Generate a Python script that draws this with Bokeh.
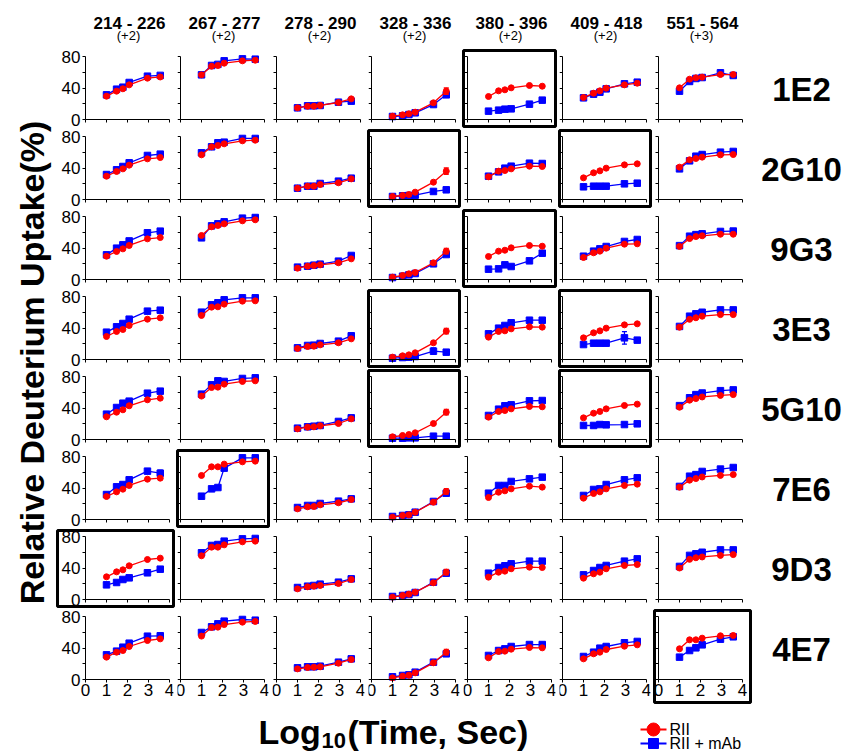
import math
from bokeh.plotting import figure
from bokeh.models import Range1d, LinearAxis, FixedTicker, GridPlot, ColumnDataSource
from bokeh.core.properties import value
from bokeh.embed import file_html
from bokeh.resources import INLINE

# ---------------- data ----------------
LOG_TIME = [1.0, 1.48, 1.78, 2.08, 2.95, 3.56]
PEPTIDES = ["214 - 226", "267 - 277", "278 - 290", "328 - 336", "380 - 396", "409 - 418", "551 - 564"]
CHARGES = ["(+2)", "(+2)", "(+2)", "(+2)", "(+2)", "(+2)", "(+3)"]
MABS = ["1E2", "2G10", "9G3", "3E3", "5G10", "7E6", "9D3", "4E7"]
X_TICKS = [0, 1, 2, 3, 4]
Y_TICKS = [0, 40, 80]
Y_MINOR = [20, 60]

RII_1E2 = [[29.6, 36, 39, 44, 52.5, 54], [56.7, 67.7, 68.6, 71.5, 74.5, 75.3], [14.8, 16.9, 16.9, 17.8, 21.6, 26.2],
           [4.2, 5.9, 7.2, 9.3, 21.2, 36], [29.2, 36.4, 37.7, 40.2, 43.2, 42.3], [27.9, 33.4, 36.4, 39.8, 44, 46.1],
           [40.2, 51.2, 52.9, 53.8, 57.1, 57.1]]
MAB_1E2 = [[31.3, 38.5, 41, 47, 55, 56], [56.7, 68.6, 70, 74.5, 77, 76.6], [14.8, 17.4, 17.4, 17.8, 22, 23.3],
           [3.8, 4.7, 6.3, 8.5, 19, 31.3], [10.6, 11.9, 13.1, 13.5, 19.5, 24.6], [27.5, 32.2, 34.7, 38.9, 45.3, 47.4],
           [36, 48.3, 52.1, 53.3, 59.3, 55.9]]
RII_2G10 = [[29.6, 35.6, 38.9, 43.6, 51.6, 53.3], [56.7, 66.9, 68.6, 70.7, 74.5, 75.3], [14.4, 16.9, 16.9, 19, 21.2, 26.2],
            [3.8, 5.1, 6.3, 9.3, 22, 36], [28.8, 36, 36.8, 38.9, 42.3, 41.9], [27.5, 33.9, 36.4, 39.8, 44, 45.3],
            [41.1, 50.4, 52.1, 53.8, 56.7, 57.1]]
MAB_2G10 = [[31.7, 37.7, 41.9, 46.6, 55.9, 57.6], [59.3, 66.9, 72, 72.8, 77.5, 77.5], [14.4, 16.9, 16.9, 20.3, 23.3, 27.1],
            [3.8, 4.7, 5.1, 5.5, 10.2, 12.3], [29.6, 35.1, 39.8, 42.3, 46.1, 45.7], [16.1, 16.9, 16.9, 16.9, 19.9, 20.7],
            [38.9, 49.1, 55, 57.1, 60.1, 61]]
RII_9G3 = [[29.6, 35.6, 38.9, 43.2, 51.6, 53.3], [55.9, 66.9, 68.6, 70.7, 74.5, 75.8], [14.4, 16.9, 17.8, 18.6, 21.2, 26.2],
           [3, 5.1, 7.2, 8.9, 21.2, 36], [29.2, 36, 37.2, 40.2, 43.2, 42.3], [27.9, 33.9, 36, 39.8, 44.9, 45.3],
           [42, 52, 54.5, 55.5, 57.5, 57.5]]
MAB_9G3 = [[31.3, 39.8, 44, 49, 59.3, 61.4], [52.9, 68.1, 70.7, 73.2, 77.9, 78.7], [15.7, 16.9, 18.2, 19.5, 23.3, 30.5],
           [2.5, 4.2, 5.9, 7.6, 19.9, 31.7], [13.1, 13.5, 18.6, 16.5, 23.7, 33.4], [29.6, 36, 38.9, 41.9, 48.3, 50.8],
           [43, 55, 57, 58, 61, 61.5]]
RII_3E3 = [[29.2, 35.6, 38.1, 43.2, 51.2, 52.9], [55.9, 66.5, 66.9, 70.3, 74.1, 74.5], [14, 16.5, 16.9, 18.6, 21.2, 26.2],
           [3, 4.7, 5.9, 8.5, 21.2, 36], [28.4, 35.6, 36.4, 38.9, 41.5, 41.1], [27.5, 33.9, 36.4, 39.8, 44, 45.3],
           [41, 51, 53, 55, 57, 57]]
MAB_3E3 = [[34.7, 41.5, 45.7, 51.2, 61.4, 62.6], [60.1, 69.4, 72, 75.8, 78.3, 78.3], [14.8, 17.8, 18.2, 20.3, 23.3, 30.1],
           [1.7, 2.5, 3, 3.8, 10.6, 9.3], [32.6, 39.8, 43.2, 46.6, 49.9, 49.9], [19, 20.7, 20.7, 20.7, 27.5, 24.6],
           [42, 55, 58, 60, 63, 63]]
RII_5G10 = [[28.8, 34.7, 37.7, 42.8, 50.4, 52.5], [55.1, 66, 66.5, 70.3, 73.7, 74.5], [13.5, 15.7, 16.1, 17.4, 20.3, 26.2],
            [3.4, 5.1, 6.3, 8.5, 20.3, 34.7], [28.4, 35.6, 36.8, 38.9, 41.9, 41.5], [27.5, 33.4, 35.6, 38.9, 43.2, 44.9],
            [41, 50, 52, 54, 56, 57]]
MAB_5G10 = [[32.2, 40.6, 46.1, 48.7, 58.8, 61.4], [57.6, 69.4, 74.5, 73.7, 77.5, 78.3], [14.4, 16.1, 16.9, 17.8, 22.9, 27.5],
            [1.7, 1.7, 2.1, 2.1, 4.2, 4.2], [30.5, 38.5, 42.8, 44, 49.1, 49.5], [17.8, 17.8, 19, 18.6, 19, 19.9],
            [43, 53, 57, 59, 62, 63]]
RII_7E6 = [[29.2, 35.1, 38.5, 43.2, 51.2, 52.5], [55.9, 66.9, 66.9, 70.3, 73.2, 74.1], [13.5, 16.1, 16.5, 18.6, 21.2, 25.4],
           [3, 5.1, 5.9, 9.3, 22, 35.6], [27.9, 34.7, 36.4, 38.9, 42.3, 41.1], [27.1, 33, 35.1, 38.9, 43.2, 44.9],
           [41, 50, 52, 54, 56, 57]]
MAB_7E6 = [[31.7, 41.5, 44.4, 50.4, 61.4, 58.8], [29.6, 38.9, 40.6, 65.2, 78.3, 78.3], [15.2, 17.8, 17.8, 20.3, 23.3, 26.2],
           [3.8, 5.1, 5.9, 9.3, 22.9, 33.4], [33.4, 43.2, 43.2, 48.3, 51.6, 53.8], [30.5, 38.1, 38.9, 44.4, 50.4, 52.9],
           [42, 55, 57, 61, 64, 66]]
RII_9D3 = [[28.8, 35.1, 37.7, 42.8, 50.8, 52.5], [55.5, 66.5, 66.5, 69.4, 73.2, 74.1], [13.5, 16.1, 16.9, 17.8, 20.3, 25.4],
           [3, 5.1, 6.8, 9.3, 21.2, 34.7], [28.4, 34.7, 36, 39, 41.1, 40.6], [27.1, 32.6, 34.7, 39, 43.2, 44.4],
           [40, 51, 53, 54, 56, 57]]
MAB_9D3 = [[18.6, 21.6, 25.4, 27.5, 33.9, 38.5], [59.3, 68.6, 69.8, 74.1, 77, 77.5], [15.2, 16.9, 17.8, 19.5, 22, 26.2],
           [3.8, 5.1, 6.3, 8.9, 22, 33.4], [33.4, 40.6, 42.8, 45.3, 48.7, 48.7], [31.3, 36.8, 40.6, 43.2, 48.7, 51.6],
           [42, 56, 58, 60, 63, 63]]
RII_4E7 = [[28.4, 34.7, 36.8, 41.9, 49.5, 51.6], [55.1, 66.1, 66.5, 69.8, 72.8, 73.7], [13.5, 15.2, 15.7, 16.1, 20.7, 25.4],
           [2.1, 4.2, 5.5, 8.5, 21.2, 34.7], [27.5, 35.6, 36, 38.5, 40.6, 40.2], [26.2, 32.6, 34.7, 38.1, 42.3, 44],
           [39, 50.4, 50.4, 52.5, 55.5, 55.9]]
MAB_4E7 = [[31.3, 36, 41, 46.1, 55, 55.5], [59.7, 66.9, 70.7, 74.1, 76.2, 75.3], [14.8, 16.1, 16.1, 16.9, 22, 26.2],
           [3.4, 5.1, 5.9, 9.3, 22, 32.6], [30.5, 36.8, 38.9, 41.9, 44.4, 44.4], [29.2, 34.7, 39.8, 41.9, 46.6, 48.3],
           [28.4, 36.8, 40.2, 44, 51.2, 54.2]]

RII = [RII_1E2, RII_2G10, RII_9G3, RII_3E3, RII_5G10, RII_7E6, RII_9D3, RII_4E7]
MAB = [MAB_1E2, MAB_2G10, MAB_9G3, MAB_3E3, MAB_5G10, MAB_7E6, MAB_9D3, MAB_4E7]

# highlighted (row, column) panels
BOXED = [(0, 4), (1, 3), (1, 5), (2, 4), (3, 3), (3, 5), (4, 3), (4, 5), (5, 1), (6, 0), (7, 6)]
# error bars: (row, column, series, time index, +/- error)
ERRORS = [(0, 3, "RII", 5, 4), (1, 3, "RII", 5, 4), (2, 3, "RII", 5, 3.5), (2, 4, "mAb", 5, 2.5),
          (3, 3, "RII", 5, 3.5), (3, 3, "mAb", 4, 4), (3, 5, "mAb", 4, 8), (4, 3, "RII", 5, 3.5),
          (5, 0, "mAb", 5, 4), (5, 1, "mAb", 0, 2.5), (5, 3, "RII", 5, 3.5), (6, 0, "mAb", 2, 2),
          (6, 3, "RII", 5, 3.5), (7, 3, "RII", 5, 3.5)]

# ---------------- style / geometry (page pixels) ----------------
FONT = "Liberation Sans"
RED = "#ff0000"
BLUE = "#0000ff"
COL_EDGES = [55, 175, 270, 366, 461, 557, 652, 752]
AXIS_X0 = [85, 180, 276, 371, 467, 562, 658]
ROW_EDGES = [48, 128, 208, 288, 368, 448, 528, 608, 704]
RIGHT_EDGE = 848
BOTTOM_EDGE = 754
PX_PER_X = 21.0
PX_PER_Y = 63.0 / 80.0


def axis_y0(r):
    return 119 + 80 * r


def blank(width, height, xr, yr, border=0):
    f = figure(frame_width=width, frame_height=height, x_range=xr, y_range=yr,
               x_axis_type=None, y_axis_type=None, toolbar_location=None,
               output_backend="svg", min_border=border)
    f.min_border_left = f.min_border_right = f.min_border_top = f.min_border_bottom = border
    f.title.visible = False
    f.outline_line_color = None
    f.background_fill_color = "white"
    f.border_fill_color = "white"
    return f


def label(f, x, y, text, size, bold=True, align="center", angle=0.0):
    f.text(x=[x], y=[y], text=[text], angle=angle, text_font=value(FONT),
           text_font_style="bold" if bold else "normal", text_font_size=size,
           text_align=align, text_baseline="middle", text_color="black")


def style_axis(ax):
    ax.axis_line_color = "black"
    ax.axis_line_width = 1
    ax.major_tick_in = 0
    ax.major_tick_out = 3
    ax.minor_tick_in = 0
    ax.minor_tick_out = 3
    ax.major_tick_line_color = "black"
    ax.minor_tick_line_color = "black"
    ax.major_label_standoff = 1
    ax.major_label_text_font = FONT
    ax.major_label_text_font_size = "17px"
    ax.major_label_text_color = "#000000"


def panel(r, c):
    cl, cr = COL_EDGES[c], COL_EDGES[c + 1]
    ct, cb = ROW_EDGES[r], ROW_EDGES[r + 1]
    fl, fr, ft, fb = cl + 2, cr - 2, ct + 2, cb - 2
    x0 = AXIS_X0[c]
    y0 = axis_y0(r)
    xr = Range1d((fl - x0) / PX_PER_X, (fr - x0) / PX_PER_X)
    yr = Range1d((y0 - fb) / PX_PER_Y, (y0 - ft) / PX_PER_Y)
    p = blank(fr - fl, fb - ft, xr, yr, border=2)
    if (r, c) in BOXED:
        p.outline_line_color = "black"
        p.outline_line_width = 3

    if r == 7:
        xt = FixedTicker(ticks=X_TICKS, minor_ticks=[])
    else:
        xt = FixedTicker(ticks=[], minor_ticks=X_TICKS)
    if c == 0:
        yt = FixedTicker(ticks=Y_TICKS, minor_ticks=Y_MINOR)
    else:
        yt = FixedTicker(ticks=[], minor_ticks=Y_TICKS + Y_MINOR)
    xa = LinearAxis(ticker=xt, fixed_location=0, bounds=(0, 4))
    ya = LinearAxis(ticker=yt, fixed_location=0, bounds=(0, 80))
    style_axis(xa)
    style_axis(ya)
    ya.major_label_standoff = 2
    p.add_layout(xa, "below")
    p.add_layout(ya, "left")

    for series, vals, color, marker, size in (("mAb", MAB[r][c], BLUE, "square", 6.5),
                                              ("RII", RII[r][c], RED, "circle", 6)):
        src = ColumnDataSource(dict(x=LOG_TIME, y=vals))
        p.line("x", "y", source=src, line_color=color, line_width=1.3)
        for (er, ec, es, idx, e) in ERRORS:
            if er == r and ec == c and es == series:
                xv, yv = LOG_TIME[idx], vals[idx]
                p.segment(x0=[xv], y0=[yv - e], x1=[xv], y1=[yv + e], line_color=color, line_width=1.3)
                p.scatter(x=[xv, xv], y=[yv - e, yv + e], marker="dash", size=5,
                          line_color=color, line_width=1.3)
        p.scatter("x", "y", source=src, marker=marker, size=size, fill_color=color, line_color=color)
    return p


children = []

# column titles
for c in range(7):
    cl, cr = COL_EDGES[c], COL_EDGES[c + 1]
    t = blank(cr - cl, ROW_EDGES[0], Range1d(cl, cr), Range1d(ROW_EDGES[0], 0))
    cx = AXIS_X0[c] + 42
    label(t, cx, 23, PEPTIDES[c], "17px")
    label(t, cx - 1, 35, CHARGES[c], "13px", bold=False)
    children.append((t, 0, c + 1))

# y axis title
yl = blank(COL_EDGES[0], ROW_EDGES[-1] - ROW_EDGES[0], Range1d(0, COL_EDGES[0]), Range1d(ROW_EDGES[-1], ROW_EDGES[0]))
label(yl, 31, 360, "Relative Deuterium Uptake(%)", "34px", angle=math.pi / 2)
children.append((yl, 1, 0, 8, 1))

# panels + row labels
for r in range(8):
    for c in range(7):
        children.append((panel(r, c), r + 1, c + 1))
    ct, cb = ROW_EDGES[r], ROW_EDGES[r + 1]
    lf = blank(RIGHT_EDGE - COL_EDGES[-1], cb - ct, Range1d(COL_EDGES[-1], RIGHT_EDGE), Range1d(cb, ct))
    label(lf, 801, axis_y0(r) - 32, MABS[r], "33px")
    children.append((lf, r + 1, 8))

# bottom: x axis title and legend
bf = blank(RIGHT_EDGE, BOTTOM_EDGE - ROW_EDGES[-1], Range1d(0, RIGHT_EDGE), Range1d(BOTTOM_EDGE, ROW_EDGES[-1]))
label(bf, 258, 731, "Log", "34px", align="left")
label(bf, 321, 740, "10", "22px", align="left")
label(bf, 347, 731, "(Time, Sec)", "34px", align="left")
bf.line(x=[640, 666], y=[729, 729], line_color=RED, line_width=2)
bf.scatter(x=[653], y=[729], marker="circle", size=13, fill_color=RED, line_color=RED)
label(bf, 669, 729, "RII", "16px", bold=False, align="left")
bf.line(x=[640, 666], y=[743, 743], line_color=BLUE, line_width=2)
bf.scatter(x=[653], y=[743], marker="square", size=10, fill_color=BLUE, line_color=BLUE)
label(bf, 669, 743, "RII + mAb", "16px", bold=False, align="left")
children.append((bf, 9, 0, 1, 9))

grid = GridPlot(children=children, toolbar_location=None, spacing=0)

open("out.html", "w").write(file_html(grid, INLINE))
